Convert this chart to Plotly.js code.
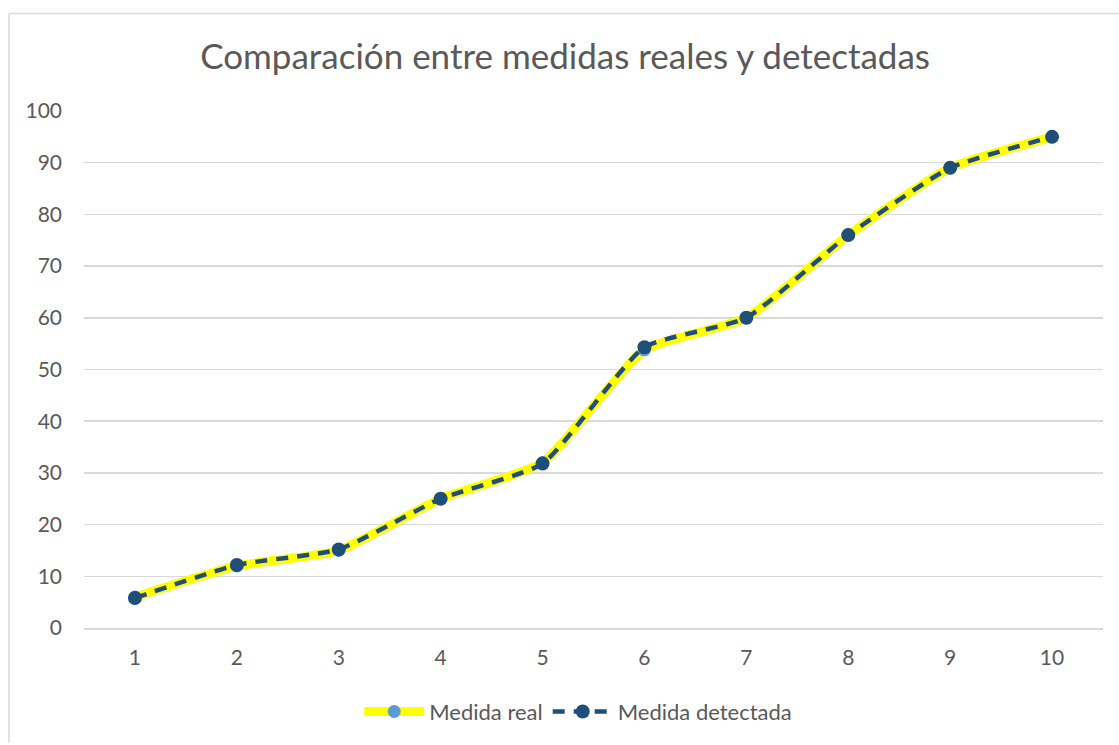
<!DOCTYPE html>
<html>
<head>
<meta charset="utf-8">
<script src="https://cdn.plot.ly/plotly-3.0.1.min.js"></script>
<style>html,body{margin:0;padding:0;background:#fff;}#chart{width:1119px;height:745px;}</style>
</head>
<body>
<div id="chart"></div>
<script>
const categories = ["1","2","3","4","5","6","7","8","9","10"];
const medidaReal = [6, 12, 15, 25, 32, 53.8, 60, 76, 89, 95];
const medidaDetectada = [5.8, 12.2, 15.2, 25, 31.8, 54.3, 60, 76, 89, 95];
const yTicks = [0,10,20,30,40,50,60,70,80,90,100];

const W = 1119, H = 745;
const mL = 84, mR = 16, mT = 111, mB = 115;
const pw = W - mL - mR, ph = H - mT - mB;
function px(x){ return (x - mL) / pw; }
function py(y){ return (H - mB - y) / ph; }

const font = "Lato, 'Open Sans', 'Liberation Sans', sans-serif";

const traces = [
  {
    x: categories, y: medidaReal, name: "Medida real", type: "scatter", mode: "lines+markers",
    line: {color: "#ffff00", width: 9, shape: "spline", smoothing: 0.5},
    marker: {color: "#5b9bd5", size: 13}
  },
  {
    x: categories, y: medidaDetectada, name: "Medida detectada", type: "scatter", mode: "lines+markers",
    line: {color: "#1f4e79", width: 4.5, dash: "12px,9px", shape: "spline", smoothing: 0.5},
    marker: {color: "#1f4e79", size: 14}
  }
];

const layout = {
  width: W, height: H,
  margin: {l: mL, r: mR, t: mT, b: mB, pad: 0},
  paper_bgcolor: "#ffffff", plot_bgcolor: "#ffffff",
  font: {family: font, color: "#595959", size: 21},
  title: {text: "Comparación entre medidas reales y detectadas", font: {family: font, size: 35, color: "#595959"},
          x: 0.505, xanchor: "center", y: 1 - 57/H, yanchor: "middle"},
  xaxis: {type: "category", showgrid: false, showline: true, linecolor: "#d9d9d9", linewidth: 1.5,
          ticks: "", tickfont: {size: 21, color: "#595959"}, zeroline: false, fixedrange: true,
          range: [-0.5, 9.5], ticklabelstandoff: 10},
  yaxis: {range: [0, 100], tickvals: yTicks, showgrid: true, gridcolor: "#d9d9d9", gridwidth: 1.5,
          zeroline: false, showline: false, ticks: "", ticklabelstandoff: 21,
          tickfont: {size: 21, color: "#595959"}, fixedrange: true},
  showlegend: true,
  legend: {orientation: "h", x: 0.485, xanchor: "center", y: py(714), yanchor: "middle",
           font: {size: 22, color: "#595959"}, itemwidth: 60, traceorder: "normal"},
  shapes: [
    {type: "line", xref: "paper", yref: "paper", x0: px(9), x1: px(1119), y0: py(13), y1: py(13),
     line: {color: "#d9d9d9", width: 1.5}},
    {type: "line", xref: "paper", yref: "paper", x0: px(9), x1: px(9), y0: py(13), y1: py(745),
     line: {color: "#d9d9d9", width: 1.5}}
  ]
};

Plotly.newPlot("chart", traces, layout, {displayModeBar: false, staticPlot: true});
</script>
</body>
</html>
